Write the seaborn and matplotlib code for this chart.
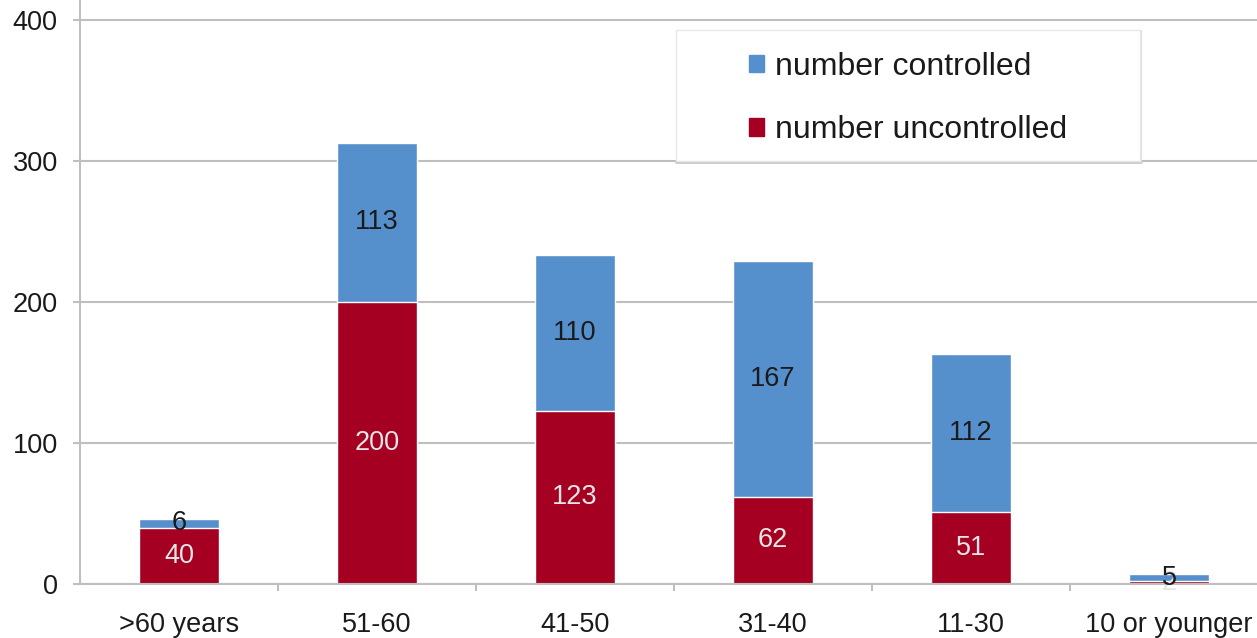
import pandas as pd
import matplotlib.pyplot as plt
import seaborn as sns
from matplotlib.patches import Patch, Rectangle

sns.set_style('white')
plt.rcParams['font.family'] = ['Liberation Sans', 'DejaVu Sans']

# data
categories = ['>60 years', '51-60', '41-50', '31-40', '11-30', '10 or younger']
uncontrolled = [40, 200, 123, 62, 51, 2]
controlled = [6, 113, 110, 167, 112, 5]

blue = '#5590CD'
red = '#A50021'
grey = '#BFBFBF'

df = pd.DataFrame({'age': categories,
                   'uncontrolled': uncontrolled,
                   'controlled': controlled})
df['total'] = df['uncontrolled'] + df['controlled']

fig = plt.figure(figsize=(12.57, 6.38), dpi=100)
ax = fig.add_axes([80/1257, 54/638, 1188/1257, 584/638])

sns.barplot(data=df, x='age', y='total', color=blue, width=0.4,
            saturation=1, errorbar=None, ax=ax)
sns.barplot(data=df, x='age', y='uncontrolled', color=red, width=0.4,
            saturation=1, errorbar=None, ax=ax)

# value labels
for i, row in df.iterrows():
    ax.text(i, row['uncontrolled'] / 2, str(row['uncontrolled']),
            ha='center', va='center', fontsize=19.5, color='#E6E6E6')
    ax.text(i, row['uncontrolled'] + row['controlled'] / 2,
            str(row['controlled']), ha='center', va='center',
            fontsize=19.5, color='#1A1A1A')

ax.set_xlim(-0.5, 5.5)
ax.set_ylim(0, 414.2)
ax.set_yticks([0, 100, 200, 300, 400])
ax.set_xlabel('')
ax.set_ylabel('')
ax.set_axisbelow(True)
ax.yaxis.grid(True, color=grey, lw=1.5)

for s in ['top', 'right']:
    ax.spines[s].set_visible(False)
for s in ['left', 'bottom']:
    ax.spines[s].set_color(grey)
    ax.spines[s].set_linewidth(1.5)

ax.set_xticks([0.5, 1.5, 2.5, 3.5, 4.5], minor=True)
ax.tick_params(axis='x', which='major', length=0, pad=20,
               labelsize=19.5, labelcolor='#1A1A1A')
ax.tick_params(axis='x', which='minor', length=5, width=1.5,
               color=grey, direction='out')
ax.tick_params(axis='y', length=5, width=1.5, color=grey, pad=11,
               labelsize=19.5, labelcolor='#1A1A1A')
ax.tick_params(axis='x', bottom=True, which='both')
ax.tick_params(axis='y', left=True)

# legend box
fig.patches.append(Rectangle((676/1257, 1 - 161/638), 464/1257, 131/638,
                             transform=fig.transFigure, facecolor='white',
                             edgecolor='#E8E8E8', lw=1, zorder=5))
fig.add_artist(plt.Line2D([676/1257, 1141/1257], [1 - 162/638, 1 - 162/638],
                          transform=fig.transFigure, color='#C8C8C8', lw=2,
                          zorder=5))
fig.add_artist(plt.Line2D([1141/1257, 1141/1257], [1 - 162/638, 1 - 31/638],
                          transform=fig.transFigure, color='#DDDDDD', lw=1.5,
                          zorder=5))
handles = [Patch(color=blue, label='number controlled'),
           Patch(color=red, label='number uncontrolled')]
leg = fig.legend(handles=handles, loc='center left',
                 bbox_to_anchor=(749/1257, 1 - 98.5/638), frameon=False,
                 fontsize=23, handlelength=0.47, handleheight=0.47,
                 handletextpad=0.35, labelspacing=1.05, borderpad=0,
                 borderaxespad=0)
leg.set_zorder(6)
for t in leg.get_texts():
    t.set_color('#1A1A1A')

fig.savefig('out.png', dpi=100)
